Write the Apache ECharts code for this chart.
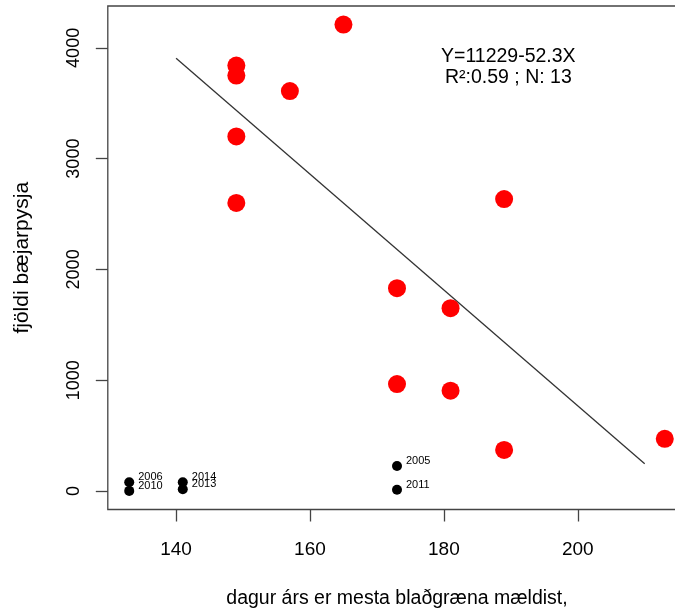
<!DOCTYPE html>
<html>
<head>
<meta charset="utf-8">
<script src="https://cdn.jsdelivr.net/npm/echarts@6/dist/echarts.min.js"></script>
<style>
  html, body { margin: 0; padding: 0; background: #fff; }
  #chart { width: 675px; height: 612px; }
</style>
</head>
<body>
<div id="chart"></div>
<script>
// red points: day of year vs count
const redX = [149, 149, 149, 149, 157, 165, 173, 173, 181, 181, 189, 189, 213];
const redY = [3840, 3750, 3200, 2600, 3610, 4210, 1830, 965, 1650, 905, 2635, 370, 470];

// black points with year labels
const blackX = [133, 133, 141, 141, 173, 173];
const blackY = [78, 0, 78, 15, 225, 10];
const blackYear = ['2006', '2010', '2014', '2013', '2005', '2011'];

// regression line Y = a + bX
const fitA = 11229;
const fitB = -52.3;
const fitX = [140, 210];

const xTicks = [140, 160, 180, 200];
const yTicks = [0, 1000, 2000, 3000, 4000];

const font = 'Liberation Sans, Arial, Helvetica, sans-serif';

const chart = echarts.init(document.getElementById('chart'));

chart.setOption({
  animation: false,
  textStyle: { fontFamily: font },
  grid: {
    left: 107.8,
    top: 6,
    width: 578.4,
    height: 503.5,
    outerBoundsMode: 'none',
    containLabel: false,
    show: true,
    borderColor: '#444',
    borderWidth: 1.3,
    backgroundColor: 'transparent'
  },
  xAxis: {
    type: 'value',
    min: 129.8,
    max: 216.2,
    name: 'dagur árs er mesta blaðgræna mældist,',
    nameLocation: 'middle',
    nameGap: 79,
    nameTextStyle: { fontSize: 19.5, color: '#000', fontFamily: font },
    axisLine: { show: false, onZero: false },
    splitLine: { show: false },
    axisTick: {
      show: true,
      inside: false,
      length: 12,
      customValues: xTicks,
      lineStyle: { color: '#444', width: 1.3 }
    },
    axisLabel: {
      customValues: xTicks,
      fontSize: 19,
      color: '#000',
      margin: 31,
      fontFamily: font,
      formatter: v => String(v)
    }
  },
  yAxis: {
    type: 'value',
    min: -168,
    max: 4378,
    name: 'fjöldi bæjarpysja',
    nameLocation: 'middle',
    nameGap: 75,
    nameTextStyle: { fontSize: 21, color: '#000', fontFamily: font },
    axisLine: { show: false, onZero: false },
    splitLine: { show: false },
    axisTick: {
      show: true,
      inside: false,
      length: 12,
      customValues: yTicks,
      lineStyle: { color: '#444', width: 1.3 }
    },
    axisLabel: {
      customValues: yTicks,
      rotate: 90,
      fontSize: 18,
      color: '#000',
      margin: 25,
      fontFamily: font,
      formatter: v => String(v)
    }
  },
  series: [
    {
      type: 'line',
      data: fitX.map(x => [x, fitA + fitB * x]),
      symbol: 'none',
      lineStyle: { color: '#333', width: 1.3 },
      z: 1
    },
    {
      type: 'scatter',
      data: redX.map((x, i) => [x, redY[i]]),
      symbolSize: 18,
      itemStyle: { color: '#ff0000', opacity: 1 },
      z: 2
    },
    {
      type: 'scatter',
      data: blackX.map((x, i) => ({ value: [x, blackY[i]], name: blackYear[i] })),
      symbolSize: 10,
      itemStyle: { color: '#000', opacity: 1 },
      label: {
        show: true,
        position: 'right',
        distance: 4,
        offset: [0, -5],
        formatter: p => p.name,
        fontSize: 11,
        color: '#000',
        fontFamily: font
      },
      z: 3
    }
  ],
  graphic: [
    {
      type: 'text',
      left: 441,
      top: 47,
      style: {
        text: 'Y=11229-52.3X',
        fontSize: 19.5,
        fill: '#000',
        fontFamily: font
      }
    },
    {
      type: 'text',
      left: 445,
      top: 68,
      style: {
        text: 'R²:0.59 ; N: 13',
        fontSize: 19.5,
        fill: '#000',
        fontFamily: font
      }
    }
  ]
});
</script>
</body>
</html>
